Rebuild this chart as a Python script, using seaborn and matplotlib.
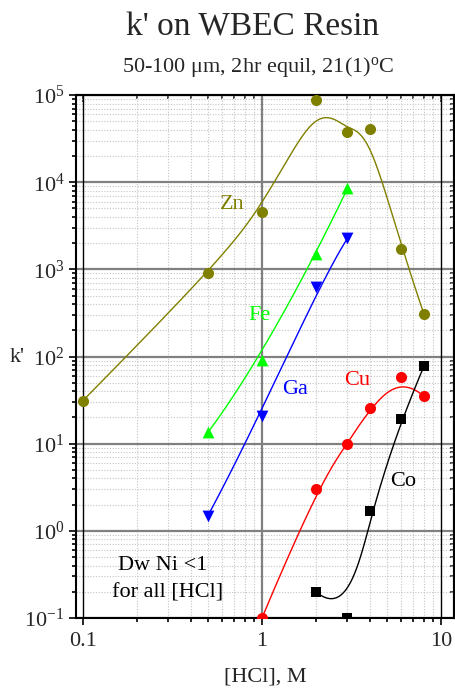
import numpy as np
import pandas as pd
import matplotlib
matplotlib.use("Agg")
import matplotlib.pyplot as plt
import matplotlib.ticker as mticker
import seaborn as sns

# data
hcl_zn = [0.1, 0.5, 1, 2, 3, 4, 6, 8]
k_zn = [31, 900, 4500, 87000, 38000, 41000, 1730, 310]
hcl_fe = [0.5, 1, 2, 3]
k_fe = [13.5, 92, 1490, 8500]
hcl_ga = [0.5, 1, 2, 3]
k_ga = [1.5, 21, 620, 2270]
hcl_cu = [1, 2, 3, 4, 6, 8]
k_cu = [0.1, 3.0, 10, 26, 59, 35]
hcl_co = [2, 3, 4, 6, 8]
k_co = [0.2, 0.1, 1.7, 19, 77]

x_ticks = [0.1, 1, 10]
x_tick_labels = ["0.1", "1", "10"]


def bspline(xs, ys, deg=3, num=400):
    # clamped uniform B-spline in log-log space, data points as control points
    P = np.column_stack([np.log10(xs), np.log10(ys)])
    n = len(P)
    k = min(deg, n - 1)
    t = np.concatenate([np.zeros(k + 1), np.arange(1, n - k), np.full(k + 1, n - k)]).astype(float)
    u = np.linspace(0, n - k, num)
    u[-1] -= 1e-9
    B = np.zeros((num, len(t) - 1))
    for i in range(len(t) - 1):
        B[:, i] = (t[i] <= u) & (u < t[i + 1])
    for d in range(1, k + 1):
        Bn = np.zeros((num, len(t) - 1 - d))
        for i in range(len(t) - 1 - d):
            a = t[i + d] - t[i]
            b = t[i + d + 1] - t[i + 1]
            term = np.zeros(num)
            if a > 0:
                term += (u - t[i]) / a * B[:, i]
            if b > 0:
                term += (t[i + d + 1] - u) / b * B[:, i + 1]
            Bn[:, i] = term
        B = Bn
    C = B @ P
    return 10 ** C[:, 0], 10 ** C[:, 1]


sns.set_style("ticks")
plt.rcParams["font.family"] = ["Liberation Serif", "DejaVu Serif"]
plt.rcParams["mathtext.fontset"] = "custom"
plt.rcParams["mathtext.rm"] = "Liberation Serif"
plt.rcParams["mathtext.it"] = "Liberation Serif:italic"

fig = plt.figure(figsize=(4.55, 6.89), dpi=100)
ax = fig.add_axes([0.1664, 0.1030, 0.998 - 0.1664, 0.862 - 0.1030])
ax.set_xscale("log")
ax.set_yscale("log")
ax.set_xlim(0.0914, 11.8)
ax.set_ylim(0.1, 1e5)

series = [
    ("Zn", hcl_zn, k_zn, "#808000", "o", 64),
    ("Fe", hcl_fe, k_fe, "#00ff00", "^", 72),
    ("Ga", hcl_ga, k_ga, "#0000ff", "v", 72),
    ("Cu", hcl_cu, k_cu, "#ff0000", "o", 64),
    ("Co", hcl_co, k_co, "#000000", "s", 44),
]

for name, xs, ys, col, mk, sz in series:
    cx, cy = bspline(xs, ys)
    curve = pd.DataFrame({"HCl": cx, "k": cy})
    sns.lineplot(data=curve, x="HCl", y="k", sort=False, color=col, lw=1.0, ax=ax, zorder=3)
    pts = pd.DataFrame({"HCl": xs, "k": ys})
    sns.scatterplot(data=pts, x="HCl", y="k", color=col, marker=mk, s=sz,
                    linewidth=0, ax=ax, zorder=4)

# grid
ax.grid(which="minor", axis="both", ls=(0, (1, 1.5)), color="#c4c4c4", lw=0.8, zorder=0)
ax.grid(which="major", axis="y", color="#808080", lw=1.6, zorder=1)
ax.grid(which="major", axis="x", visible=False)
ax.axvline(1, color="#808080", lw=1.6, zorder=1)
ax.axvline(0.1, color="black", lw=1.0, zorder=1)
ax.axvline(10, color="black", lw=1.0, zorder=1)

ax.yaxis.set_major_locator(mticker.LogLocator(base=10, numticks=10))
ax.yaxis.set_minor_locator(mticker.LogLocator(base=10, subs=np.arange(2, 10), numticks=20))
ax.yaxis.set_minor_formatter(mticker.NullFormatter())
ax.xaxis.set_major_locator(mticker.FixedLocator(x_ticks))
ax.xaxis.set_major_formatter(mticker.FixedFormatter(x_tick_labels))
ax.xaxis.set_minor_locator(mticker.LogLocator(base=10, subs=np.arange(2, 10), numticks=20))
ax.xaxis.set_minor_formatter(mticker.NullFormatter())

ax.tick_params(which="both", direction="out", labelsize=16, width=1.2, color="black",
               top=False, right=False)
ax.tick_params(which="major", length=5)
ax.tick_params(which="minor", length=3)
ax.tick_params(axis="x", pad=5)
ax.tick_params(axis="y", pad=3)
for sp in ax.spines.values():
    sp.set_linewidth(1.5)
    sp.set_color("black")

top = ax.secondary_xaxis("top", functions=(lambda v: v, lambda v: v))
top.tick_params(which="both", direction="in", labeltop=False, width=1.2)
top.tick_params(which="major", length=5)
top.tick_params(which="minor", length=3)
top.xaxis.set_minor_locator(mticker.LogLocator(base=10, subs=np.arange(2, 10), numticks=20))
top.spines["top"].set_linewidth(1.5)
right = ax.secondary_yaxis("right", functions=(lambda v: v, lambda v: v))
right.tick_params(which="both", direction="in", labelright=False, width=1.2)
right.tick_params(which="major", length=5)
right.tick_params(which="minor", length=3)
right.yaxis.set_minor_locator(mticker.LogLocator(base=10, subs=np.arange(2, 10), numticks=20))
right.spines["right"].set_linewidth(1.5)

ax.set_xlabel("")
ax.set_ylabel("")

# series labels
ax.text(0.683, 5590, "Zn", color="#808000", fontsize=16, ha="center", va="center", zorder=5)
ax.text(0.966, 296, "Fe", color="#00ff00", fontsize=16, ha="center", va="center", zorder=5)
ax.text(1.535, 41.8, "Ga", color="#0000ff", fontsize=16, ha="center", va="center", zorder=5)
ax.text(3.39, 53, "Cu", color="#ff0000", fontsize=16, ha="center", va="center", zorder=5)
ax.text(6.13, 3.69, "Co", color="black", fontsize=16, ha="center", va="center", zorder=5)
ax.text(0.279, 0.396, "Dw Ni <1", color="black", fontsize=16, ha="center", va="center", zorder=5)
ax.text(0.296, 0.194, "for all [HCl]", color="black", fontsize=16, ha="center", va="center", zorder=5)

fig.text(253 / 455, 1 - 27 / 689, "k' on WBEC Resin", fontsize=24, ha="center", va="center")
fig.text(258 / 455, 1 - 67 / 689, r"50-100 μm, 2hr equil, 21(1)$^\mathrm{o}$C",
         fontsize=16, ha="center", va="center")
fig.text(265 / 455, 1 - 677 / 689, "[HCl], M", fontsize=16, ha="center", va="center")
fig.text(17 / 455, 1 - 357 / 689, "k'", fontsize=16, ha="center", va="center")

fig.savefig("out.png", dpi=100)
